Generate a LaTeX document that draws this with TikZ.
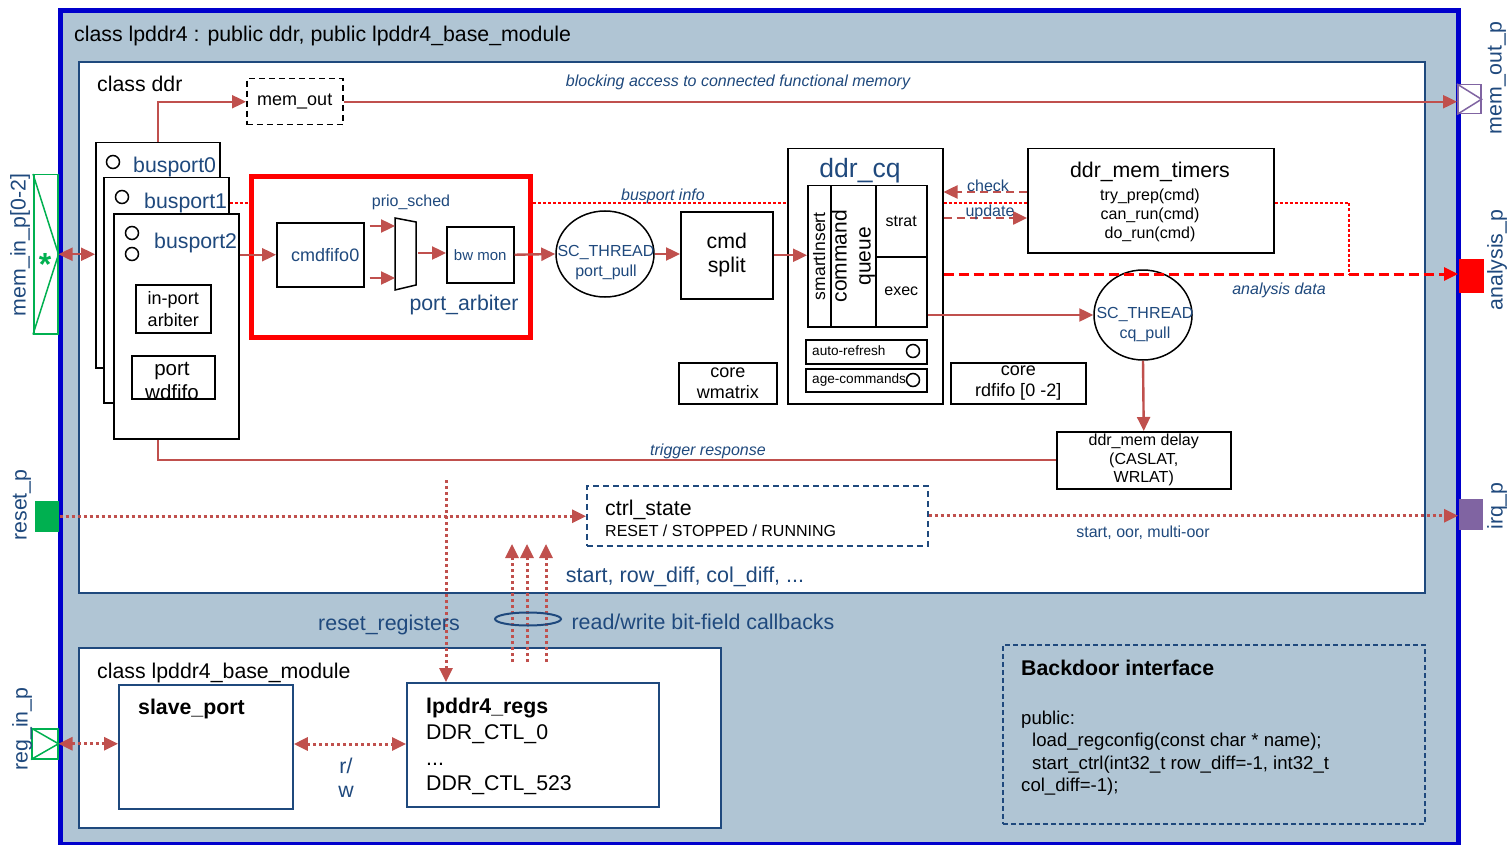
\documentclass[tikz,border=0pt]{standalone}
\usepackage{fontspec}
\setmainfont{Liberation Sans}
\usetikzlibrary{arrows.meta,shapes.geometric,calc}
\definecolor{bgc}{RGB}{176,197,212}
\definecolor{obl}{RGB}{0,0,204}
\definecolor{dkb}{RGB}{31,73,125}
\definecolor{tbl}{RGB}{31,73,125}
\definecolor{arr}{RGB}{192,80,77}
\definecolor{grn}{RGB}{0,176,80}
\definecolor{pur}{RGB}{128,100,162}
\newcommand\fsz[2]{\fontsize{#1}{#2}\selectfont}
\begin{document}
\begin{tikzpicture}[x=1pt,y=-1pt,
 >={Triangle[length=14pt,width=13pt]},
 bx/.style={draw=black,line width=1.5pt,fill=white,inner sep=0pt,anchor=north west},
 dbx/.style={draw=dkb,line width=1.8pt,fill=white,inner sep=0pt,anchor=north west},
 conn/.style={draw=arr,line width=2.4pt,->},
 dconn/.style={draw=arr,line width=2.5pt,dash pattern=on 8pt off 5pt,->},
 dots/.style={draw=arr,line width=3pt,dash pattern=on 3pt off 3pt},
 infol/.style={draw=red,line width=1.2pt,dash pattern=on 3pt off 2pt},
 lbl/.style={text=tbl,inner sep=0pt},
 ilbl/.style={text=tbl,inner sep=0pt,font=\itshape\fsz{16}{19}},
 circ/.style={circle,draw=black,line width=1.5pt,minimum size=13pt,inner sep=0pt,fill=white},
 port/.style={inner sep=0pt,anchor=north west,line width=1.5pt},
 plbl/.style={text=tbl,rotate=90,font=\fsz{21.3}{25},inner sep=0pt},
 txt/.style={inner sep=0pt}
]
\useasboundingbox (0,0) rectangle (1509,845);
% outer class
\node[draw=obl,line width=5pt,fill=bgc,inner sep=0pt,anchor=north west,minimum width=1398pt,minimum height=834pt] (outer) at (58,8) {};
\node[txt,anchor=base west,font=\fsz{21.3}{25}] (title) at (74,42) {class lpddr4 : public ddr, public lpddr4\_base\_module};
% class ddr
\node[dbx,minimum width=1346pt,minimum height=531pt] (ddr) at (78,61) {};
\node[txt,anchor=base west,font=\fsz{21.3}{25}] (ddrlbl) at (97,92) {class ddr};
\node[bx,dash pattern=on 6pt off 4pt,minimum width=96pt,minimum height=46pt,font=\fsz{18}{21}] (memout) at (246,78) {mem\_out};
% busports
\node[bx,minimum width=124pt,minimum height=225pt] (bp0) at (95,142) {};
\node[circ] (c0) at (113,162) {};
\node[lbl,anchor=base west,font=\fsz{21.3}{25}] (bp0l) at (133,173) {busport0};
\node[bx,minimum width=125pt,minimum height=225pt] (bp1) at (103,177) {};
\node[circ] (c1) at (122,197) {};
\node[lbl,anchor=base west,font=\fsz{21.3}{25}] (bp1l) at (144,208) {busport1};
\node[bx,minimum width=125pt,minimum height=225pt] (bp2) at (113,213) {};
\node[circ] (c2a) at (132,233) {};
\node[circ] (c2b) at (132,254) {};
\node[lbl,anchor=base west,font=\fsz{21.3}{25}] (bp2l) at (154,248) {busport2};
\node[bx,minimum width=75pt,minimum height=48pt,align=center,font=\fsz{18}{22}] (ipa) at (135,284) {in-port\\arbiter};
\node[bx,minimum width=83pt,minimum height=43pt] (wdf) at (131,355) {};
\node[txt,align=center,font=\fsz{20.5}{24}] at (172,381) {port\\wdfifo};
\draw[conn] (bp0.north) |- (memout.west);
% port arbiter
\node[draw=red,line width=5pt,fill=white,inner sep=0pt,anchor=north west,minimum width=279pt,minimum height=161pt] (pa) at (249,174) {};
\node[bx,minimum width=87pt,minimum height=64pt,text=tbl,font=\fsz{18}{21}] (cmdf) at (276,222) {\hspace*{10pt}cmdfifo0};
\draw[line width=1.5pt,fill=white] (395,218) -- (416,222) -- (416,285) -- (395,290) -- cycle;
\coordinate (psin1) at (395,226);
\coordinate (psin2) at (395,278);
\coordinate (psout) at (416,253);
\node[bx,minimum width=67pt,minimum height=56pt,text=tbl,font=\fsz{15}{18}] (bw) at (446,226) {bw mon};
\node[lbl,font=\fsz{16}{19}] (pslbl) at (411,202) {prio\_sched};
\node[lbl,font=\fsz{21.3}{25}] (palbl) at (464,305) {port\_arbiter};
\draw[conn] (bp2.east |- cmdf.west) -- (cmdf.west);
\draw[conn] ([xshift=5pt]cmdf.east |- psin1) -- (psin1);
\draw[conn] ([xshift=5pt]cmdf.east |- psin2) -- (psin2);
\draw[conn] ([xshift=2pt]psout) -- (bw.west |- psout);
% port_pull, cmd split
\node[ellipse,draw=black,line width=1.5pt,fill=white,minimum width=98pt,minimum height=86pt,inner sep=0pt] (pp) at (605,254) {};
\node[lbl,align=center,font=\fsz{16}{20}] (ppl) at (606,263) {SC\_THREAD\\port\_pull};
\node[bx,minimum width=92pt,minimum height=87pt,align=center,font=\fsz{21.3}{24}] (cs) at (680,211) {cmd\\split};
\draw[conn] (bw.east) -- (pp.west);
\draw[conn] (pp.east) -- (cs.west |- pp.east);
% ddr_cq
\node[bx,minimum width=155pt,minimum height=255pt] (cq) at (787,148) {};
\node[lbl,font=\fsz{26.5}{30}] (cql) at (860,171) {ddr\_cq};
\node[bx,minimum width=23pt,minimum height=141pt] (si) at (807,185) {};
\node[txt,rotate=90,font=\fsz{17.5}{20}] at (si.center) {smartInsert};
\node[bx,minimum width=45pt,minimum height=141pt] (cmq) at (830,185) {};
\node[txt,rotate=90,font=\fsz{21}{24},align=center] at (cmq.center) {command\\queue};
\node[bx,minimum width=51pt,minimum height=71pt,font=\fsz{16}{19}] (strat) at (875,185) {strat};
\node[bx,minimum width=51pt,minimum height=70pt,font=\fsz{16}{19}] (exec) at (875,256) {exec};
\node[bx,minimum width=121pt,minimum height=24pt] (ar) at (805,339) {};
\node[txt,anchor=west,font=\fsz{13.6}{16}] at (812,351) {auto-refresh};
\node[circ] (car) at (913,351) {};
\node[bx,minimum width=121pt,minimum height=23pt] (ac) at (805,368) {};
\node[txt,anchor=west,font=\fsz{13.6}{16}] at (812,380) {age-commands};
\node[circ] (cac) at (913,380) {};
\draw[conn] (cs.east) -- (si.west |- cs.east);
% timers
\node[bx,minimum width=246pt,minimum height=104pt] (tm) at (1027,148) {};
\node[txt,font=\fsz{21.3}{25}] at (1150,172) {ddr\_mem\_timers};
\node[txt,font=\fsz{16}{19},align=center] at (1150,215) {try\_prep(cmd)\\can\_run(cmd)\\do\_run(cmd)};
\draw[dconn] (tm.west |- 0,192) -- (cq.east |- 0,192);
\draw[dconn] (cq.east |- 0,218) -- (tm.west |- 0,218);
\node[lbl,font=\fsz{16}{19}] at (988,186) {check};
\node[lbl,font=\fsz{16}{19}] at (990,212) {update};
% busport info
\draw[infol] (bp1.east |- 0,203) -- (pa.west |- 0,203);
\draw[infol] (pa.east |- 0,203) -- (cq.west |- 0,203);
\draw[infol] (cq.east |- 0,203) -- (tm.west |- 0,203);
\coordinate (aj) at (1349,274);
\draw[infol] (tm.east |- 0,203) -| (aj);
\node[ilbl] at (663,196) {busport info};
% cores
\node[bx,minimum width=98pt,minimum height=41pt,align=center,font=\fsz{18}{21}] (wm) at (678,362) {core\\wmatrix};
\node[bx,minimum width=135pt,minimum height=41pt,align=center,font=\fsz{18}{21}] (rd) at (950,362) {core\\rdfifo [0 -2]};
% cq_pull and delay
\node[ellipse,draw=black,line width=1.5pt,fill=white,minimum width=98pt,minimum height=90pt,inner sep=0pt] (cqp) at (1143,315) {};
\node[lbl,align=center,font=\fsz{16}{20}] (cqpl) at (1145,325) {SC\_THREAD\\cq\_pull};
\node[bx,minimum width=174pt,minimum height=57pt,align=center,font=\fsz{16}{18.5}] (dly) at (1056,431) {ddr\_mem delay\\(CASLAT,\\WRLAT)};
\draw[conn] (exec.east |- cqp.west) -- (cqp.west);
\draw[conn] (cqp.south) -- (dly.north);
\draw[draw=arr,line width=2.2pt] (dly.west) -| (bp2.south -| bp0.north);
\node[ilbl] at (708,451) {trigger response};
% ports
\node[port,draw=grn,fill=white,minimum width=24pt,minimum height=159pt] (mip) at (33,174) {};
\draw[grn,line width=1.5pt] (mip.north west) -- (mip.east) -- (mip.south west);
\node[txt,text=grn,font=\bfseries\fsz{32}{32}] at (45,264) {*};
\node[plbl] at (20,245) {mem\_in\_p[0-2]};
\draw[conn,<->] (mip.east) -- (bp0.west |- mip.east);
\node[port,fill=grn,minimum width=24pt,minimum height=31pt] (rsp) at (34,500) {};
\node[plbl] at (22,505) {reset\_p};
\node[port,draw=grn,fill=white,minimum width=26pt,minimum height=30pt] (rip) at (31,728) {};
\draw[grn,line width=1.5pt] (rip.north west) -- (rip.east) -- (rip.south west);
\node[plbl] at (22,729) {reg\_in\_p};
\node[port,draw=pur,fill=white,minimum width=23pt,minimum height=29pt] (mop) at (1457,84) {};
\draw[pur,line width=1.5pt] (mop.north west) -- (mop.east) -- (mop.south west);
\node[plbl] at (1497,78) {mem\_out\_p};
\node[port,fill=red,minimum width=25pt,minimum height=34pt] (anp) at (1458,258) {};
\node[plbl] at (1497,260) {analysis\_p};
\node[port,fill=pur,minimum width=24pt,minimum height=31pt] (irq) at (1458,498) {};
\node[plbl] at (1497,506) {irq\_p};
\draw[conn] (memout.east) -- (mop.west |- memout.east);
\node[ilbl] at (738,82) {blocking access to connected functional memory};
\draw[draw=red,line width=3pt,dash pattern=on 10pt off 5pt,->] (cq.east |- aj) -- (anp.west |- aj);
\node[ilbl] at (1279,290) {analysis data};
% ctrl_state
\node[draw=dkb,line width=1.5pt,dash pattern=on 6pt off 4pt,fill=white,inner sep=0pt,anchor=north west,minimum width=341pt,minimum height=60pt] (cst) at (586,485) {};
\node[txt,anchor=base west,font=\fsz{21.3}{25}] at (605,515) {ctrl\_state};
\node[txt,anchor=base west,font=\fsz{16}{19}] at (605,536) {RESET / STOPPED / RUNNING};
\draw[dots,->] (rsp.east) -- (cst.west |- rsp.east);
\draw[dots,->] (cst.east) -- (irq.west |- cst.east);
\node[lbl,font=\fsz{16}{19}] at (1143,533) {start, oor, multi-oor};
\node[lbl,font=\fsz{21.5}{25}] at (685,577) {start, row\_diff, col\_diff, ...};
% base module
\node[dbx,minimum width=642pt,minimum height=180pt] (bm) at (78,647) {};
\node[txt,anchor=base west,font=\fsz{21.3}{25}] at (97,678) {class lpddr4\_base\_module};
\node[dbx,minimum width=174pt,minimum height=124pt] (sp) at (118,684) {};
\node[txt,anchor=base west,font=\bfseries\fsz{21.3}{25}] at (138,714) {slave\_port};
\node[dbx,minimum width=252pt,minimum height=124pt] (regs) at (406,682) {};
\node[txt,anchor=base west,font=\bfseries\fsz{21.3}{25}] at (426,713) {lpddr4\_regs};
\node[txt,anchor=base west,font=\fsz{21.3}{25}] at (426,739) {DDR\_CTL\_0};
\node[txt,anchor=base west,font=\fsz{21.3}{25}] at (426,765) {...};
\node[txt,anchor=base west,font=\fsz{21.3}{25}] at (426,790) {DDR\_CTL\_523};
\draw[dots,<->] (sp.east |- 0,744) -- (regs.west |- 0,744);
\draw[dots,<->] (rip.east) -- (sp.west |- rip.east);
\node[lbl,font=\fsz{21.3}{25}] at (346,766) {r/};
\node[lbl,font=\fsz{21.3}{25}] at (346,792) {w};
% register callbacks
\coordinate (rrt) at (446,480);
\draw[dots,->] (rrt) -- (regs.north -| rrt);
\coordinate (cbA) at (512,662);
\coordinate (cbB) at (527,662);
\coordinate (cbC) at (546,662);
\coordinate (cbAt) at (512,544);
\coordinate (cbBt) at (527,544);
\coordinate (cbCt) at (546,544);
\draw[dots,->] (cbA) -- (cbAt);
\draw[dots,->] (cbB) -- (cbBt);
\draw[dots,->] (cbC) -- (cbCt);
\draw[dkb,line width=2pt] (528,619) ellipse [x radius=33, y radius=6.5];
\node[lbl,font=\fsz{21.4}{25}] at (389,625) {reset\_registers};
\node[lbl,font=\fsz{21.4}{25}] at (703,622) {read/write bit-field callbacks};
% backdoor
\node[draw=dkb,line width=1.5pt,dash pattern=on 5pt off 3pt,inner sep=0pt,anchor=north west,minimum width=422pt,minimum height=179pt] (bd) at (1002,644) {};
\node[txt,anchor=base west,font=\bfseries\fsz{21.3}{25}] at (1021,675) {Backdoor interface};
\node[txt,anchor=base west,font=\fsz{18.6}{22}] at (1021,724) {public:};
\node[txt,anchor=base west,font=\fsz{18.6}{22}] at (1032,746) {load\_regconfig(const char * name);};
\node[txt,anchor=base west,font=\fsz{18.6}{22}] at (1032,769) {start\_ctrl(int32\_t row\_diff=-1, int32\_t};
\node[txt,anchor=base west,font=\fsz{18.6}{22}] at (1021,791) {col\_diff=-1);};
\end{tikzpicture}
\end{document}
